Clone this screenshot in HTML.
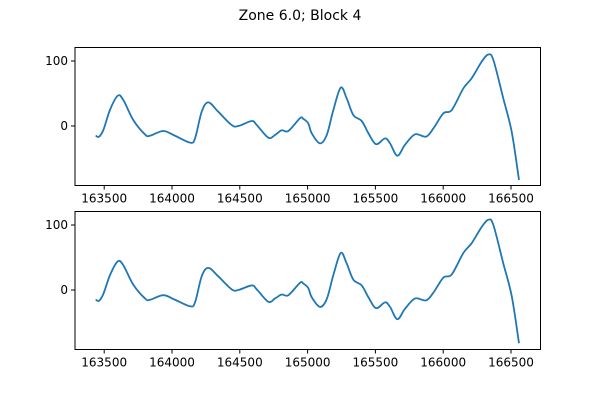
<!DOCTYPE html>
<html><head><meta charset="utf-8"><style>
body{margin:0;background:#fff;}
svg{display:block;font-family:"DejaVu Sans","Liberation Sans",sans-serif;}
</style></head><body>
<svg id="fig" width="600" height="400" viewBox="0 0 600 400">
<rect width="600" height="400" fill="#fff"/>
<text x="300" y="20" text-anchor="middle" font-size="14">Zone 6.0; Block 4</text>
</svg>
<script>
const xTicks=[163500,164000,164500,165000,165500,166000,166500];
const yTicks=[0,100];
const xsTop=[163437,163462,163494,163543,163600,163641,163715,163801,163838,163936,164022,164133,164170,164219,164268,164341,164440,164489,164588,164625,164710,164760,164809,164858,164944,164968,165005,165030,165091,165141,165190,165244,165288,165337,165399,165448,165504,165571,165608,165662,165718,165792,165873,165928,166001,166063,166149,166210,166284,166333,166370,166443,166505,166559];
const ysTop=[-15,-16.5,-6,25,46.6,40,9,-13,-15,-7.7,-15,-25.6,-19,22,36.4,22,1.5,0,7.7,1.5,-18,-13.8,-6.6,-7.7,12,11,4,-11,-26.7,-14,24.6,59,42.6,17,7.7,-11,-28,-19,-26.7,-45.7,-29,-12.8,-16.4,-3.6,19.5,24.6,58,73.4,99,110,101.5,42.6,-8.8,-83];
const xsBot=xsTop.slice();
const ysBot=[-15,-16.5,-6,23,44,38,8,-13,-15,-8,-15,-25,-19,21,34,21,1,0,7,1,-18,-13,-7,-8,11,10,3,-11,-26,-14,23,57,41,16,7,-11,-28,-19,-26,-45,-29,-13,-16,-4,19,24,57,72,97,108,100,41,-9,-82];
const NS='http://www.w3.org/2000/svg';
const svg=document.getElementById('fig');
function mk(t,a,p){const e=document.createElementNS(NS,t);for(const k in a)e.setAttribute(k,a[k]);(p||svg).appendChild(e);return e;}
const L=75,R=540.5;
function sx(v){return 104.2+(v-163500)*0.1356;}
function panel(top,bottom,zeroY,xs,ys,name){
  const g=mk('g',{});
  
  
  const sy=v=>zeroY-v*0.65;
  const pts=xs.map((x,i)=>[sx(x),sy(ys[i])]);
  let d='M'+pts[0][0]+','+pts[0][1];
  for(let i=0;i<pts.length-1;i++){
    const p0=pts[i-1]||pts[i],p1=pts[i],p2=pts[i+1],p3=pts[i+2]||pts[i+1];
    const c1=[p1[0]+(p2[0]-p0[0])/6,p1[1]+(p2[1]-p0[1])/6];
    const c2=[p2[0]-(p3[0]-p1[0])/6,p2[1]-(p3[1]-p1[1])/6];
    d+=' C'+c1[0].toFixed(2)+','+c1[1].toFixed(2)+' '+c2[0].toFixed(2)+','+c2[1].toFixed(2)+' '+p2[0].toFixed(2)+','+p2[1].toFixed(2);
  }
  const line=mk('path',{d:d,fill:'none',stroke:'#1f77b4','stroke-width':1.8,'stroke-linejoin':'round'},g);
  
  
  const fr=mk('rect',{x:L,y:top,width:R-L,height:bottom-top,fill:'none',stroke:'#000','stroke-width':1},g);
  
  
  xTicks.forEach(t=>{
    const x=sx(t);
    mk('line',{x1:x,x2:x,y1:bottom,y2:bottom+4,stroke:'#000'},g);
    const tx=mk('text',{x:x,y:bottom+17,'text-anchor':'middle','font-size':12},g);
    tx.textContent=t;
    
    
  });
  yTicks.forEach(t=>{
    const y=sy(t);
    mk('line',{x1:L-4,x2:L,y1:y,y2:y,stroke:'#000'},g);
    const tx=mk('text',{x:L-7,y:y+4,'text-anchor':'end','font-size':12},g);
    tx.textContent=t;
    
    
  });
}
panel(47.5,185.5,126,xsTop,ysTop,'top-axes');
panel(211.5,349.5,290,xsBot,ysBot,'bottom-axes');
</script>
</body></html>
